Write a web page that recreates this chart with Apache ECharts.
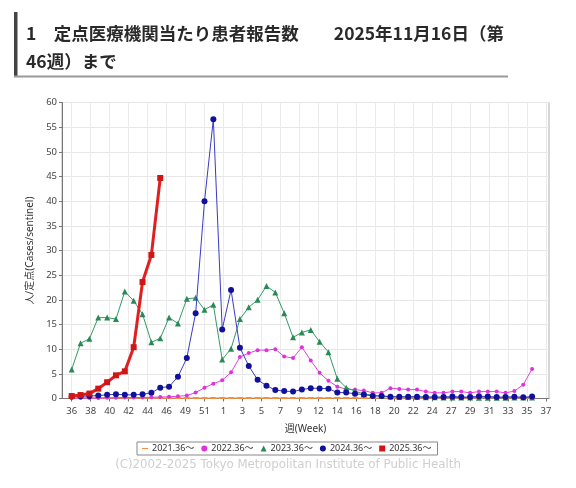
<!DOCTYPE html>
<html>
<head>
<meta charset="utf-8">
<script src="https://cdn.jsdelivr.net/npm/echarts@6/dist/echarts.min.js"></script>
<style>
html,body{margin:0;padding:0;background:#fff;}
#c{width:576px;height:488px;}
</style>
</head>
<body>
<div id="c"></div>
<script>
// ---- data ----
const weeks = [36,37,38,39,40,41,42,43,44,45,46,47,48,49,50,51,52,
  1,2,3,4,5,6,7,8,9,10,11,12,13,14,15,16,17,18,19,20,21,22,23,24,25,26,27,28,29,30,31,32,33,34,35,36];
const tickLabels = ['36','38','40','42','44','46','49','51','1','3','5','7','9','12','14','16','18','20','22','24','27','29','31','33','35','37'];
const seriesNames = ['2021.36～','2022.36～','2023.36～','2024.36～','2025.36～'];
const s2021 = [0.1,0.1,0.1,0.1,0.1,0.1,0.1,0.1,0.1,0.1,0.1,0.1,0.1,0.1,0.1,0.1,0.1,
  0.1,0.1,0.1,0.1,0.1,0.1,0.1,0.1,0.1,0.1,0.1,0.1,0.1,0.1,0.1,0.1,0.1,0.1,0.1,0.1,0.1,0.1,0.1,0.1,0.1,0.1,0.1,0.1,0.1,0.1,0.1,0.1,0.1,0.1,0.1,0.1];
const s2022 = [0.1,0.1,0.1,0.1,0.15,0.15,0.2,0.2,0.2,0.25,0.3,0.35,0.45,0.6,1.2,2.2,3.0,
  3.7,5.3,8.4,9.2,9.8,9.8,10.0,8.5,8.2,10.4,7.7,5.2,3.6,2.4,1.9,1.8,1.6,1.15,1.15,2.1,1.95,1.8,1.8,1.4,1.15,1.15,1.4,1.4,1.15,1.4,1.4,1.4,1.15,1.5,2.8,6.0];
const s2023 = [5.9,11.2,12.1,16.4,16.4,16.1,21.7,19.8,17.1,11.4,12.2,16.4,15.2,20.2,20.4,18.0,19.0,
  7.9,10.1,16.1,18.5,20.0,22.8,21.5,17.3,12.4,13.4,13.9,11.5,9.4,4.0,2.2,1.5,0.9,0.7,0.5,0.4,0.3,0.3,0.3,0.25,0.25,0.2,0.2,0.2,0.2,0.15,0.15,0.15,0.15,0.2,0.2,0.2];
const s2024 = [0.4,0.45,0.5,0.6,0.75,0.85,0.75,0.75,0.85,1.15,2.2,2.4,4.4,8.2,17.3,40.0,56.6,
  14.0,22.0,10.3,6.6,3.8,2.6,1.7,1.5,1.4,1.8,2.1,2.05,2.0,1.2,1.2,0.95,0.8,0.5,0.5,0.35,0.35,0.35,0.35,0.3,0.3,0.3,0.4,0.3,0.3,0.45,0.4,0.3,0.3,0.35,0.25,0.4];
const s2025 = [0.5,0.7,1.0,2.0,3.3,4.7,5.5,10.4,23.6,29.1,44.7];

// days from season start for week index i
const pts = arr => arr.map((v,i)=>[i*7, v]);
const font = 'Noto Sans, Noto Sans CJK JP, sans-serif';

const chart = echarts.init(document.getElementById('c'), null, {renderer:'canvas'});
const lineColors = ['#ff9944','#e040e0','#339966','#3a3ac4','#e02020'];
const markColors = ['#ff8c3a','#dd33dd','#2a8a55','#10109a','#d01515'];
const lineW = [1,1,1,1,3];
const syms = ['rect','circle','triangle','circle','rect'];
const symSize = [[6,2],4,6,6,6];
const dataAll = [s2021,s2022,s2023,s2024,s2025];
const dashIcon = 'path://M0,4h10v2h-10zM0,0h0.01v0.01h-0.01zM0,10h0.01v-0.01h-0.01z';
const icons = [dashIcon,'circle','triangle','circle','rect'];

chart.setOption({
  animation:false,
  title:{
    text:'1　定点医療機関当たり患者報告数　　2025年11月16日（第\n46週）まで',
    left:21, top:14,
    textStyle:{fontFamily:'Noto Sans CJK JP', fontSize:17.5, fontWeight:'bold', color:'#2a2a2a', lineHeight:28}
  },
  graphic:[
    {type:'rect', shape:{x:14,y:12,width:3.5,height:65}, style:{fill:'#444'}},
    {type:'rect', shape:{x:14,y:75.5,width:494,height:2}, style:{fill:'#999'}},
    {type:'text', left:'center', top:459, style:{text:'(C)2002-2025 Tokyo Metropolitan Institute of Public Health', fill:'#cfcfcf', font:'11.8px DejaVu Sans'}}
  ],
  legend:{
    left:137, top:442,
    data: seriesNames.map((n,i)=>({name:n, icon:icons[i]})),
    itemWidth:6, itemHeight:6, itemGap:7,
    borderColor:'#888', borderWidth:1, padding:[2,6,2,5],
    textStyle:{fontFamily:font, fontSize:9, color:'#333', padding:[0,0,0,-1]}
  },
  grid:[
    {left:62, top:102.5, right:27, bottom:89.5, show:true, borderColor:'#b0b0b0', borderWidth:1, backgroundColor:'transparent'},
    {left:71.7, top:102.5, right:30, bottom:89.5}
  ],
  xAxis:[
    {gridIndex:0, type:'value', min:0, max:1, offset:3,
     axisLine:{show:true, lineStyle:{color:'#777', width:1}},
     axisTick:{show:false}, axisLabel:{show:false}, splitLine:{show:false},
     name:'週(Week)', nameLocation:'middle', nameGap:23,
     nameTextStyle:{fontFamily:font, fontSize:10, color:'#333'}},
    {gridIndex:1, type:'value', min:0, max:375, interval:15, offset:3,
     axisLine:{show:false},
     axisTick:{show:true, length:3, lineStyle:{color:'#777'}},
     axisLabel:{show:true, margin:5, fontFamily:font, fontSize:9.5, color:'#444',
       formatter:v=>tickLabels[Math.round(v/15)] ?? ''},
     splitLine:{show:true, lineStyle:{color:'#ebebeb', width:1}}}
  ],
  yAxis:[
    {gridIndex:0, type:'value', min:0, max:60, interval:5,
     axisLine:{show:true, lineStyle:{color:'#777'}},
     axisTick:{show:true, length:3, lineStyle:{color:'#777'}},
     axisLabel:{margin:5, fontFamily:font, fontSize:9.5, color:'#444'},
     splitLine:{show:true, lineStyle:{color:'#e6e6e6'}},
     name:'人/定点(Cases/sentinel)', nameLocation:'middle', nameRotate:90, nameGap:21,
     nameTextStyle:{fontFamily:font, fontSize:10, color:'#333'}},
    {gridIndex:1, type:'value', min:0, max:60, show:false}
  ],
  series: dataAll.map((d,i)=>({
    name:seriesNames[i], type:'line', xAxisIndex:1, yAxisIndex:1,
    data:pts(d), symbol:syms[i], symbolSize:symSize[i], showAllSymbol:true,
    lineStyle:{color:lineColors[i], width:lineW[i]},
    itemStyle:{color:markColors[i]},
    z: 2+i
  }))
});
</script>
</body>
</html>
